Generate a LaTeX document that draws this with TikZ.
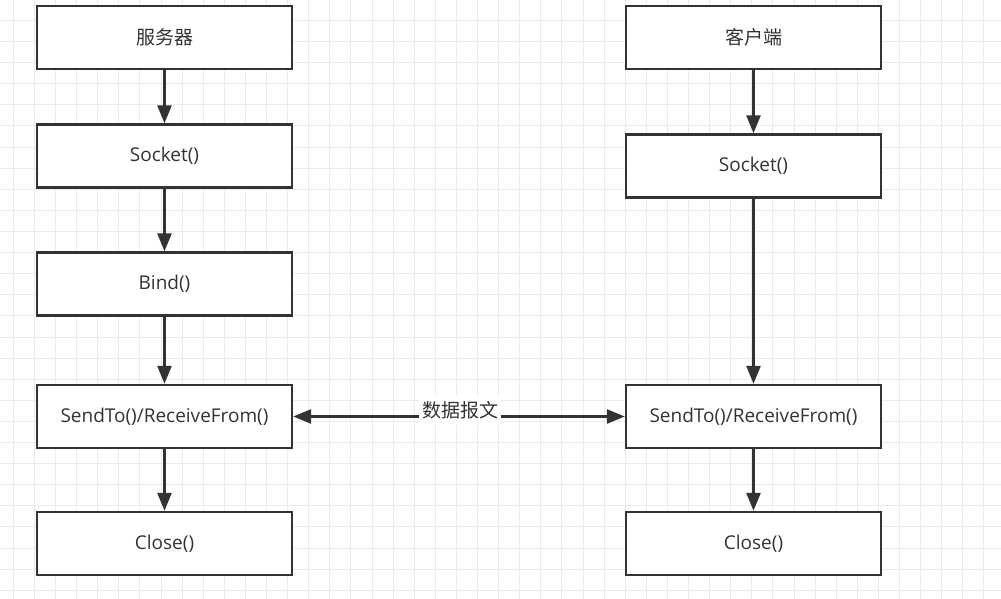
\documentclass[tikz,border=0pt]{standalone}
\usepackage{fontspec}
\setmainfont{Open Sans}
\newfontfamily\cjk{Noto Sans CJK SC}
\usetikzlibrary{arrows.meta}
\definecolor{ink}{HTML}{333333}
\definecolor{gridc}{HTML}{EBEBEB}
\tikzset{
  stepbox/.style={draw=ink, line width=2.4pt, fill=white, minimum width=255pt, minimum height=63pt, inner sep=0pt, text=ink, font=\fontsize{19pt}{22pt}\selectfont},
  flow/.style={draw=ink, line width=2.6pt, -{Triangle[width=14pt,length=18pt]}},
  both/.style={draw=ink, line width=2.6pt, {Triangle[width=14pt,length=18pt]}-{Triangle[width=14pt,length=18pt]}},
  lbl/.style={fill=white, text=ink, inner xsep=3pt, inner ysep=6pt, font=\cjk\fontsize{19pt}{22pt}\selectfont}
}
\begin{document}
\begin{tikzpicture}[x=1pt,y=-1pt]
\useasboundingbox (0,0) rectangle (1001,599);
\fill[white] (0,0) rectangle (1001,599);
\foreach \i in {0,...,47} {
  \draw[gridc, line width=1pt] ({13.3+21.1*\i},0) -- ({13.3+21.1*\i},599);
}
\foreach \j in {-1,...,28} {
  \draw[gridc, line width=1pt] (0,{20.5+21.1*\j}) -- (1001,{20.5+21.1*\j});
}
% server side
\node[stepbox] (l0) at (164.5,37.5) {\cjk 服务器};
\node[stepbox] (l1) at (164.5,156) {Socket()};
\node[stepbox] (l2) at (164.5,284) {Bind()};
\node[stepbox] (l3) at (164.5,416.5) {SendTo()/ReceiveFrom()};
\node[stepbox] (l4) at (164.5,543.5) {Close()};
% client side
\node[stepbox] (r0) at (753.5,37.5) {\cjk 客户端};
\node[stepbox] (r1) at (753.5,166) {Socket()};
\node[stepbox] (r3) at (753.5,416.5) {SendTo()/ReceiveFrom()};
\node[stepbox] (r4) at (753.5,543.5) {Close()};
% arrows
\draw[flow] (l0) -- (l1);
\draw[flow] (l1) -- (l2);
\draw[flow] (l2) -- (l3);
\draw[flow] (l3) -- (l4);
\draw[flow] (r0) -- (r1);
\draw[flow] (r1) -- (r3);
\draw[flow] (r3) -- (r4);
\draw[both] (l3) -- (r3);
\node[lbl] (msg) at (460,410) {数据报文};
\end{tikzpicture}
\end{document}
